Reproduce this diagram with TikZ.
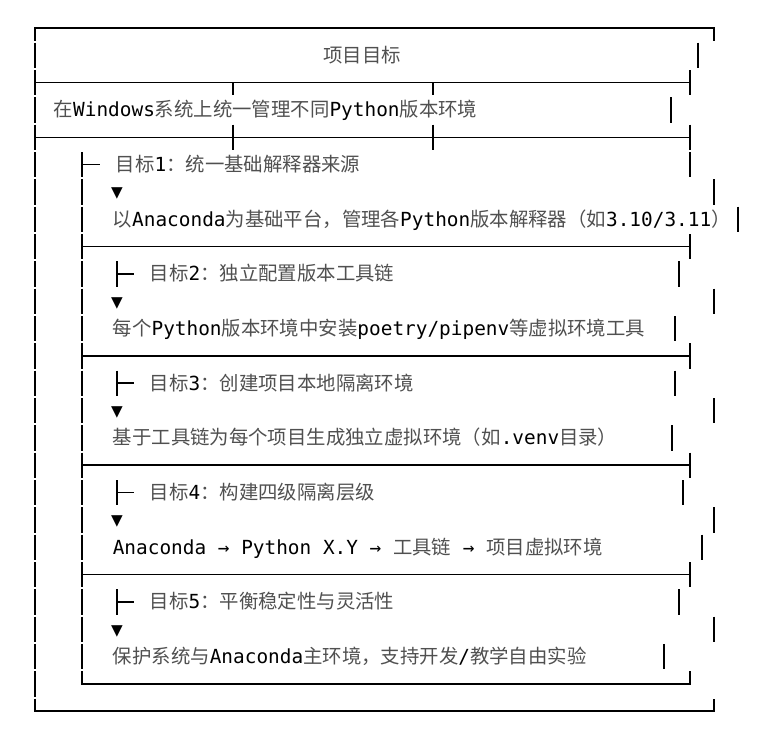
\documentclass[tikz,border=0pt]{standalone}
\usepackage{fontspec}
\setmainfont{DejaVu Sans Mono}
\newfontfamily\cjk{Noto Sans CJK SC}[Color=505050]
\newcommand\zh[1]{{\cjk #1}}
% y of text row k
\newcommand\ry[1]{28+27.33*#1}
\usetikzlibrary{positioning}

\begin{document}
\begin{tikzpicture}[x=1pt,y=-1pt,line width=1.6pt,
   txt/.style={anchor=base west,inner sep=0pt,font=\fontsize{19.4}{19.4}\selectfont},
   ttl/.style={txt,anchor=base}]
  \useasboundingbox (0,0) rectangle (780,753);
  % outer frame
  \draw (35,{\ry{0}+12.6}) -- (35,{\ry{0}}) -- (714,{\ry{0}}) -- (714,{\ry{0}+12.6});
  \draw (35,{\ry{25}-12.6}) -- (35,{\ry{25}}) -- (714,{\ry{25}}) -- (714,{\ry{25}-12.6});
  \foreach \k in {1,...,24}
    \draw (35,{\ry{\k}-12.6}) -- (35,{\ry{\k}+12.6});
  % header rules
  \foreach \k in {2,4}
    \draw (35,{\ry{\k}}) -- (690,{\ry{\k}});
  \foreach \x in {233,433} {
    \draw (\x,{\ry{2}}) -- (\x,{\ry{2}+12.6});
    \draw (\x,{\ry{4}-12.6}) -- (\x,{\ry{4}+12.6});
  }
  % inner frame
  \foreach \k in {5,...,23}
    \draw (82,{\ry{\k}-12.6}) -- (82,{\ry{\k}+12.6});
  \foreach \k in {2,4,5,8,12,16,20}
    \draw (690,{\ry{\k}-12.6}) -- (690,{\ry{\k}+12.6});
  \foreach \k in {8,12,16,20}
    \draw (82,{\ry{\k}}) -- (690,{\ry{\k}});
  \draw (82,{\ry{24}-12.6}) -- (82,{\ry{24}}) -- (690,{\ry{24}}) -- (690,{\ry{24}-12.6});
  % loose right bars
  \foreach \k/\x in {1/698,3/671,6/714,7/738,9/679,10/714,11/675,13/675,
                     14/714,15/672,17/683,18/714,19/702,21/679,22/714,23/664}
    \draw (\x,{\ry{\k}-12.6}) -- (\x,{\ry{\k}+12.6});
  % branch marks
  \draw (82,{\ry{5}}) -- (100,{\ry{5}});
  \foreach \k in {9,13,17,21} {
    \draw (117,{\ry{\k}-12.6}) -- (117,{\ry{\k}+12.6});
    \draw (117,{\ry{\k}}) -- (134,{\ry{\k}});
  }
  \foreach \k in {6,10,14,18,22}
    \node[txt,anchor=base] at (117,{\ry{\k}+7}) {▼};

  \node[ttl] (title) at (362,{\ry{1}+7}) {\zh{项目目标}};
  \node[txt] (aim) at (53,{\ry{3}+7}) {\zh{在}Windows\zh{系统上统一管理不同}Python\zh{版本环境}};
  \node[txt] (g1) at (115,{\ry{5}+7}) {\zh{目标}1\zh{：统一基础解释器来源}};
  \node[txt] (d1) at (112,{\ry{7}+7}) {\zh{以}Anaconda\zh{为基础平台，管理各}Python\zh{版本解释器（如}3.10/3.11\zh{）}};
  \node[txt] (g2) at (149,{\ry{9}+7}) {\zh{目标}2\zh{：独立配置版本工具链}};
  \node[txt] (d2) at (112,{\ry{11}+7}) {\zh{每个}Python\zh{版本环境中安装}poetry/pipenv\zh{等虚拟环境工具}};
  \node[txt] (g3) at (149,{\ry{13}+7}) {\zh{目标}3\zh{：创建项目本地隔离环境}};
  \node[txt] (d3) at (112,{\ry{15}+7}) {\zh{基于工具链为每个项目生成独立虚拟环境（如}.venv\zh{目录）}};
  \node[txt] (g4) at (149,{\ry{17}+7}) {\zh{目标}4\zh{：构建四级隔离层级}};
  \node[txt] (d4) at (112,{\ry{19}+7}) {Anaconda → Python X.Y → \zh{工具链} → \zh{项目虚拟环境}};
  \node[txt] (g5) at (149,{\ry{21}+7}) {\zh{目标}5\zh{：平衡稳定性与灵活性}};
  \node[txt] (d5) at (112,{\ry{23}+7}) {\zh{保护系统与}Anaconda\zh{主环境，支持开发}/\zh{教学自由实验}};
\end{tikzpicture}
\end{document}
